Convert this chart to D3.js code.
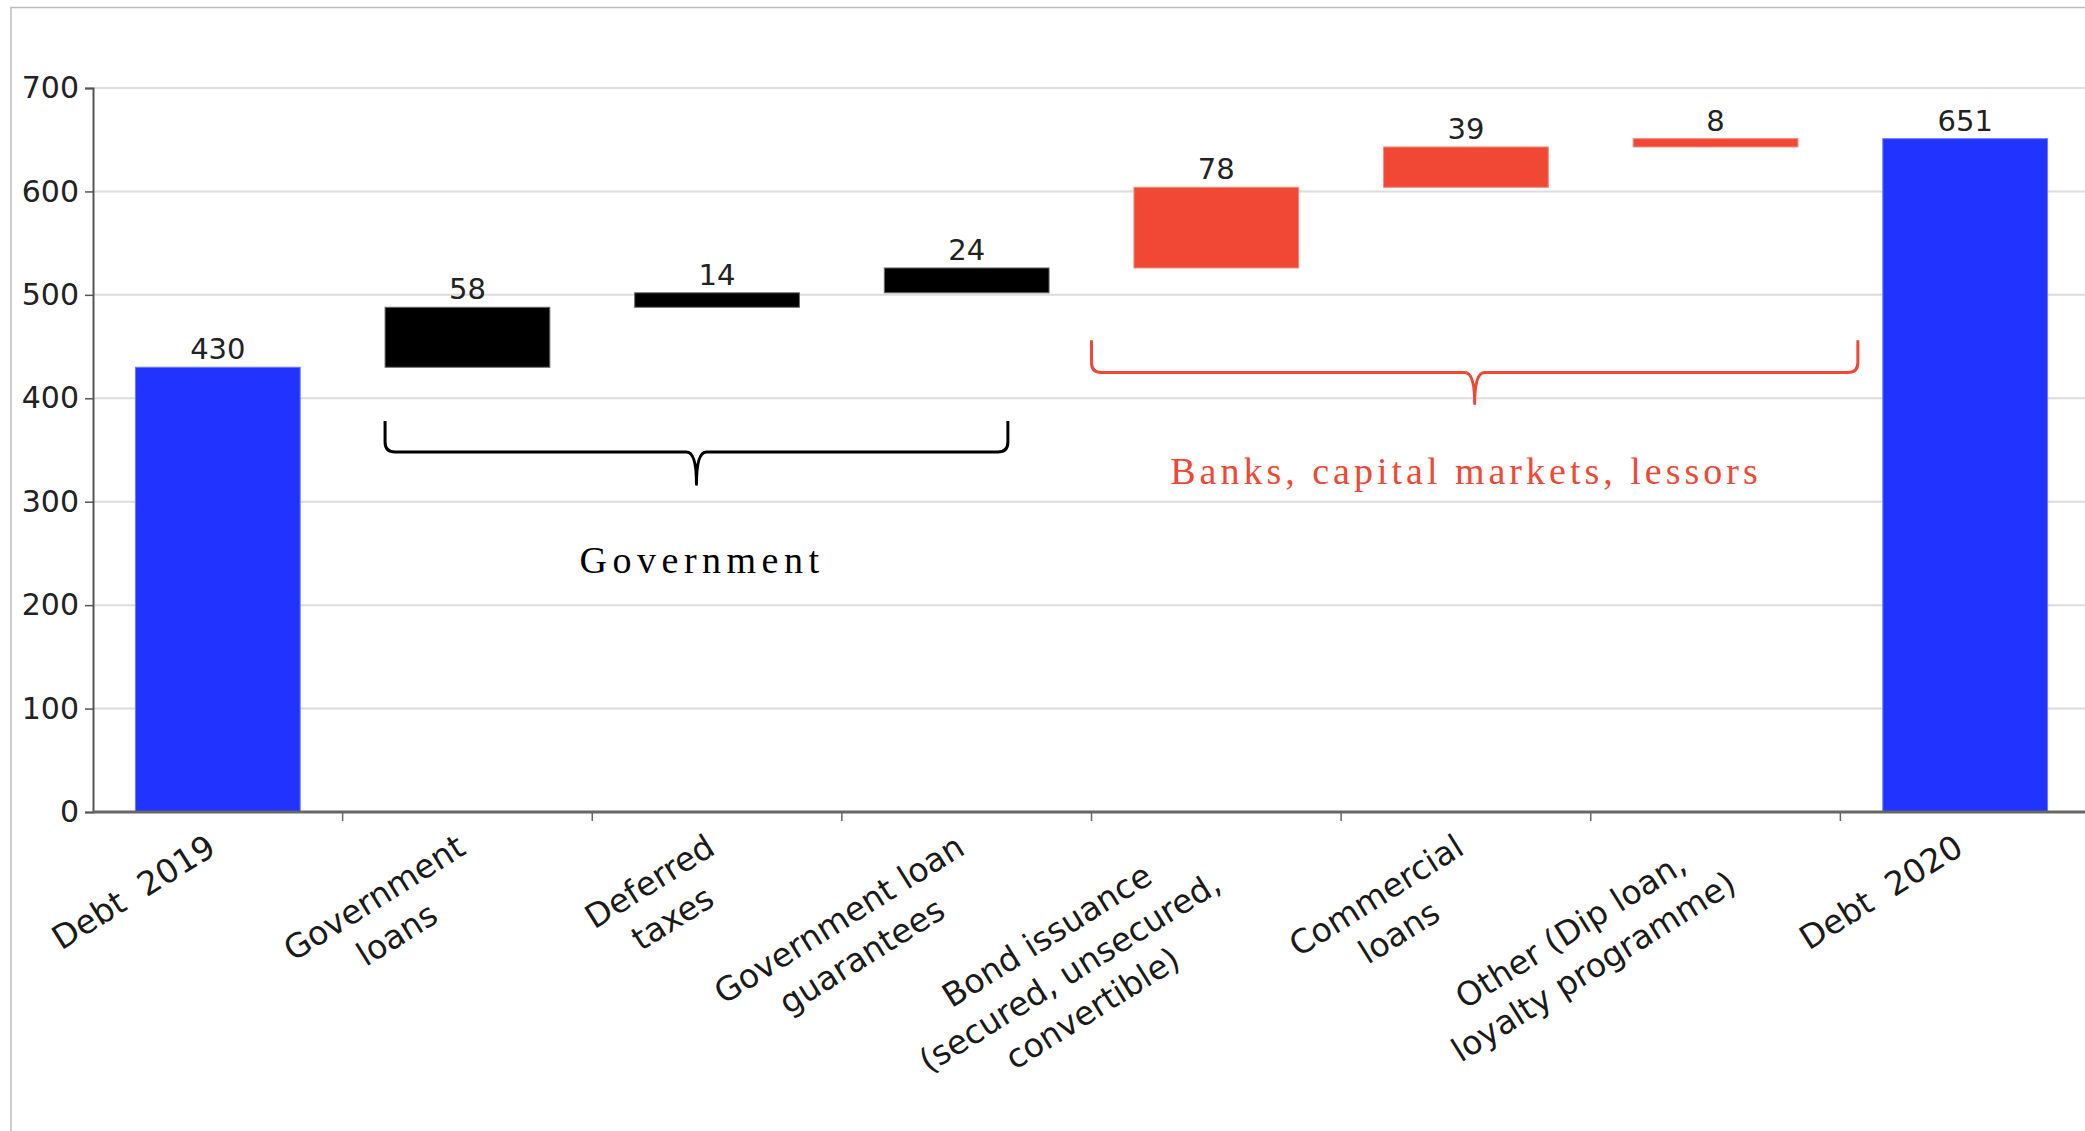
<!DOCTYPE html>
<html>
<head>
<meta charset="utf-8">
<script src="https://cdn.jsdelivr.net/npm/d3@7"></script>
<style>
  html, body { margin: 0; padding: 0; background: #fff; }
  svg { display: block; }
  .xlab text { white-space: pre; }
</style>
</head>
<body>
<svg id="chart" width="2085" height="1131"></svg>
<script>
// Waterfall: how debt grew from 2019 to 2020, by source of funding
const categories = [
  "Debt 2019",
  "Government loans",
  "Deferred taxes",
  "Government loan guarantees",
  "Bond issuance",
  "Commercial loans",
  "Other",
  "Debt 2020"
];
const labelLines = [
  ["Debt  2019"],
  ["Government", "loans"],
  ["Deferred", "taxes"],
  ["Government loan", "guarantees"],
  ["Bond issuance", "(secured, unsecured,", "convertible)"],
  ["Commercial", "loans"],
  ["Other (Dip loan,", "loyalty programme)"],
  ["Debt  2020"]
];
const values = [430, 58, 14, 24, 78, 39, 8, 651];
const kinds = ["total", "gov", "gov", "gov", "market", "market", "market", "total"];
const yTicks = [0, 100, 200, 300, 400, 500, 600, 700];

// group braces: span given as [category, fraction of step]; heights in axis units
const groups = [
  { name: "Government", kind: "gov", from: ["Government loans", 0.17], to: ["Government loan guarantees", 0.665],
    ends: 378, bar: 348, tip: 317, labelAt: ["Deferred taxes", 0.44], labelValue: 231 },
  { name: "Banks, capital markets, lessors", kind: "market", from: ["Bond issuance", 0.0], to: ["Debt 2020", 0.07],
    ends: 456, bar: 425, tip: 395, labelAt: ["Commercial loans", 0.5], labelValue: 317 }
];

const colors = { total: "#2033ff", gov: "#000000", market: "#f04834" };
const strokes = { total: "#6a78ff", gov: "#6a6a6a", market: "#f58a7c" };

const svg = d3.select("#chart");
const W = 2085, H = 1131;

// outer frame
svg.append("rect").attr("width", W).attr("height", H).attr("fill", "#fff");
svg.append("path")
  .attr("d", `M11,${H} L11,7.5 L${W},7.5`)
  .attr("fill", "none").attr("stroke", "#bdbdbd").attr("stroke-width", 1.5);

const x0 = 93, x1 = 2090, yTop = 88, yBase = 812;

const x = d3.scaleBand().domain(categories).range([x0, x1])
  .paddingInner(0.34).paddingOuter(0.17);
const y = d3.scaleLinear().domain([0, 700]).range([yBase, yTop]);
const step = x.step();
const bandStart = c => x(c) - x.paddingInner() * step / 2;

// running base for each step of the waterfall
let running = 0;
const bars = categories.map((c, i) => {
  let lo, hi;
  if (kinds[i] === "total") { lo = 0; hi = values[i]; running = values[i]; }
  else { lo = running; hi = running + values[i]; running = hi; }
  return { c, lo, hi, v: values[i], kind: kinds[i], lines: labelLines[i] };
});

// gridlines
svg.append("g").selectAll("line").data(yTicks.filter(t => t > 0)).join("line")
  .attr("x1", x0).attr("x2", W)
  .attr("y1", d => y(d)).attr("y2", d => y(d))
  .attr("stroke", "#dcdcdc").attr("stroke-width", 2);

// y axis
const yAxis = svg.append("g").attr("transform", `translate(${x0},0)`)
  .call(d3.axisLeft(y).tickValues(yTicks).tickSize(8).tickPadding(6));
yAxis.select(".domain").attr("stroke", "#555").attr("stroke-width", 2);
yAxis.selectAll(".tick line").attr("stroke", "#555").attr("stroke-width", 1.5);
yAxis.selectAll(".tick text")
  .attr("font-family", "DejaVu Sans, sans-serif").attr("font-size", 30)
  .attr("fill", "#222");

// bars
svg.append("g").selectAll("rect").data(bars).join("rect")
  .attr("x", d => x(d.c))
  .attr("width", x.bandwidth())
  .attr("y", d => y(d.hi))
  .attr("height", d => y(d.lo) - y(d.hi))
  .attr("fill", d => colors[d.kind])
  .attr("stroke", d => strokes[d.kind]).attr("stroke-width", 1);

// value labels
svg.append("g").selectAll("text").data(bars).join("text")
  .attr("x", d => x(d.c) + x.bandwidth() / 2)
  .attr("y", d => y(d.hi) - 8)
  .attr("text-anchor", "middle")
  .attr("font-family", "DejaVu Sans, sans-serif").attr("font-size", 29)
  .attr("fill", "#222")
  .text(d => d.v);

// x axis line and ticks at band boundaries
const xAxis = svg.append("g");
xAxis.append("line").attr("x1", x0).attr("x2", W).attr("y1", yBase).attr("y2", yBase)
  .attr("stroke", "#666").attr("stroke-width", 3);
xAxis.selectAll("line.tick").data(categories.slice(1)).join("line").attr("class", "tick")
  .attr("x1", d => bandStart(d)).attr("x2", d => bandStart(d))
  .attr("y1", yBase).attr("y2", yBase + 9)
  .attr("stroke", "#666").attr("stroke-width", 1.5);

// rotated category labels, lines centred on each other, block ending at the band centre
const angle = -32, lh = 43, fs = 33;
const lab = svg.append("g").attr("class", "xlab").selectAll("g").data(bars).join("g")
  .attr("transform", d => {
    const dx = d.lines.length > 2 ? -16 : 0;
    return `translate(${x(d.c) + x.bandwidth() / 2 + dx},${yBase + 41}) rotate(${angle})`;
  });
lab.each(function (d) {
  const g = d3.select(this);
  const texts = d.lines.map((ln, i) => g.append("text")
    .attr("font-family", "DejaVu Sans, sans-serif").attr("font-size", fs)
    .attr("fill", "#1a1a1a")
    .attr("text-anchor", "middle")
    .attr("y", i * lh)
    .text(ln));
  const maxW = d3.max(texts, t => t.node().getComputedTextLength());
  texts.forEach(t => t.attr("x", -maxW / 2));
});

// group braces with their captions
const bracePath = (a, b, top, mid, tip) => {
  const c = (a + b) / 2, r = 10;
  return `M${a},${top} L${a},${mid - r} Q${a},${mid} ${a + r},${mid}` +
    ` L${c - r},${mid} Q${c},${mid} ${c},${tip}` +
    ` Q${c},${mid} ${c + r},${mid} L${b - r},${mid} Q${b},${mid} ${b},${mid - r} L${b},${top}`;
};
groups.forEach(gp => {
  const a = bandStart(gp.from[0]) + gp.from[1] * step;
  const b = bandStart(gp.to[0]) + gp.to[1] * step;
  const col = colors[gp.kind];
  svg.append("path")
    .attr("d", bracePath(a, b, y(gp.ends), y(gp.bar), y(gp.tip)))
    .attr("fill", "none").attr("stroke", col).attr("stroke-width", 3)
    .attr("stroke-linejoin", "round");
  svg.append("text")
    .attr("x", bandStart(gp.labelAt[0]) + gp.labelAt[1] * step)
    .attr("y", y(gp.labelValue))
    .attr("text-anchor", "middle")
    .attr("font-family", "Liberation Serif, Times New Roman, serif")
    .attr("font-size", 38)
    .attr("letter-spacing", gp.kind === "gov" ? 5.5 : 4)
    .attr("fill", col)
    .text(gp.name);
});
</script>
</body>
</html>
